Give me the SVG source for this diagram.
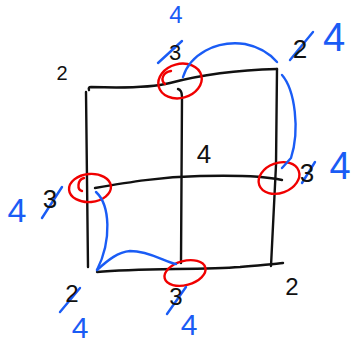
<svg xmlns="http://www.w3.org/2000/svg" width="353" height="345" viewBox="0 0 353 345">
<style>
.k{fill:none;stroke:#111;stroke-width:2.4;stroke-linecap:round;stroke-linejoin:round}
.r{fill:none;stroke:#f00000;stroke-width:2.4;stroke-linecap:round}
.b{fill:none;stroke:#1a5cf5;stroke-width:2.4;stroke-linecap:round}
.tk{font-family:"Liberation Sans",Arial,sans-serif;fill:#111;text-anchor:middle}
.tb{font-family:"Liberation Sans",Arial,sans-serif;fill:#1a5cf5;text-anchor:middle}
</style>
<rect width="353" height="345" fill="#fff"/>
<g id="grid">
<path class="k" d="M89,90 Q88,87 91,87 C120,88 150,88 170,83 C200,75 240,70 277,69"/>
<path class="k" d="M86,92 L88,267"/>
<path class="k" d="M277,69 L276,165 L271,266"/>
<path class="k" d="M178,89 Q182,90 182,97 L181,263"/>
<path class="k" d="M95,188 C130,182 160,177 200,176 C240,175 265,176 282,180"/>
<path class="k" d="M97,272 C140,268 200,270 240,267 C260,265 275,264 283,263"/>
</g>
<g id="red-marks">
<ellipse class="r" cx="180" cy="81" rx="22" ry="17" transform="rotate(-15 180 81)"/>
<path class="r" d="M171,71 C163,72 160,80 165,84"/>
<ellipse class="r" cx="90" cy="188" rx="21" ry="14" transform="rotate(-5 90 188)"/>
<path class="r" d="M84,178 C77,180 77,190 82,191"/>
<ellipse class="r" cx="279" cy="178" rx="21" ry="15" transform="rotate(-20 279 178)"/>
<ellipse class="r" cx="185" cy="273" rx="21" ry="12" transform="rotate(-15 185 273)"/>
</g>
<g id="connectors">
<path class="b" d="M183,77 C190,55 215,40 245,44 C260,47 270,54 277,62"/>
<path class="b" d="M282,75 C295,90 300,130 291,158 L282,168"/>
<path class="b" d="M96,192 C110,205 112,240 97,270"/>
<path class="b" d="M97,270 C108,260 118,252 130,251 C150,251 165,262 176,264"/>
</g>
<g id="strikes">
<path class="b" d="M158,63 L182,41"/>
<path class="b" d="M290,60 L313,32"/>
<path class="b" d="M302,183 L315,162"/>
<path class="b" d="M42,218 L62,187"/>
<path class="b" d="M60,312 L80,288"/>
<path class="b" d="M167,314 L186,287"/>
</g>
<g id="labels">
<text class="tk" x="62" y="80" font-size="20">2</text>
<text class="tk" x="175" y="60" font-size="22">3</text>
<text class="tb" x="176" y="23" font-size="24">4</text>
<text class="tk" x="300" y="58" font-size="26">2</text>
<text class="tb" x="334" y="51" font-size="40">4</text>
<text class="tk" x="204" y="163" font-size="26">4</text>
<text class="tk" x="307" y="182" font-size="26">3</text>
<text class="tb" x="340" y="179" font-size="38">4</text>
<text class="tk" x="50" y="208" font-size="26">3</text>
<text class="tb" x="17" y="222" font-size="34">4</text>
<text class="tk" x="72" y="302" font-size="24">2</text>
<text class="tb" x="80" y="338" font-size="30">4</text>
<text class="tk" x="176" y="305" font-size="24">3</text>
<text class="tb" x="189" y="335" font-size="30">4</text>
<text class="tk" x="292" y="295" font-size="24">2</text>
</g>
</svg>
